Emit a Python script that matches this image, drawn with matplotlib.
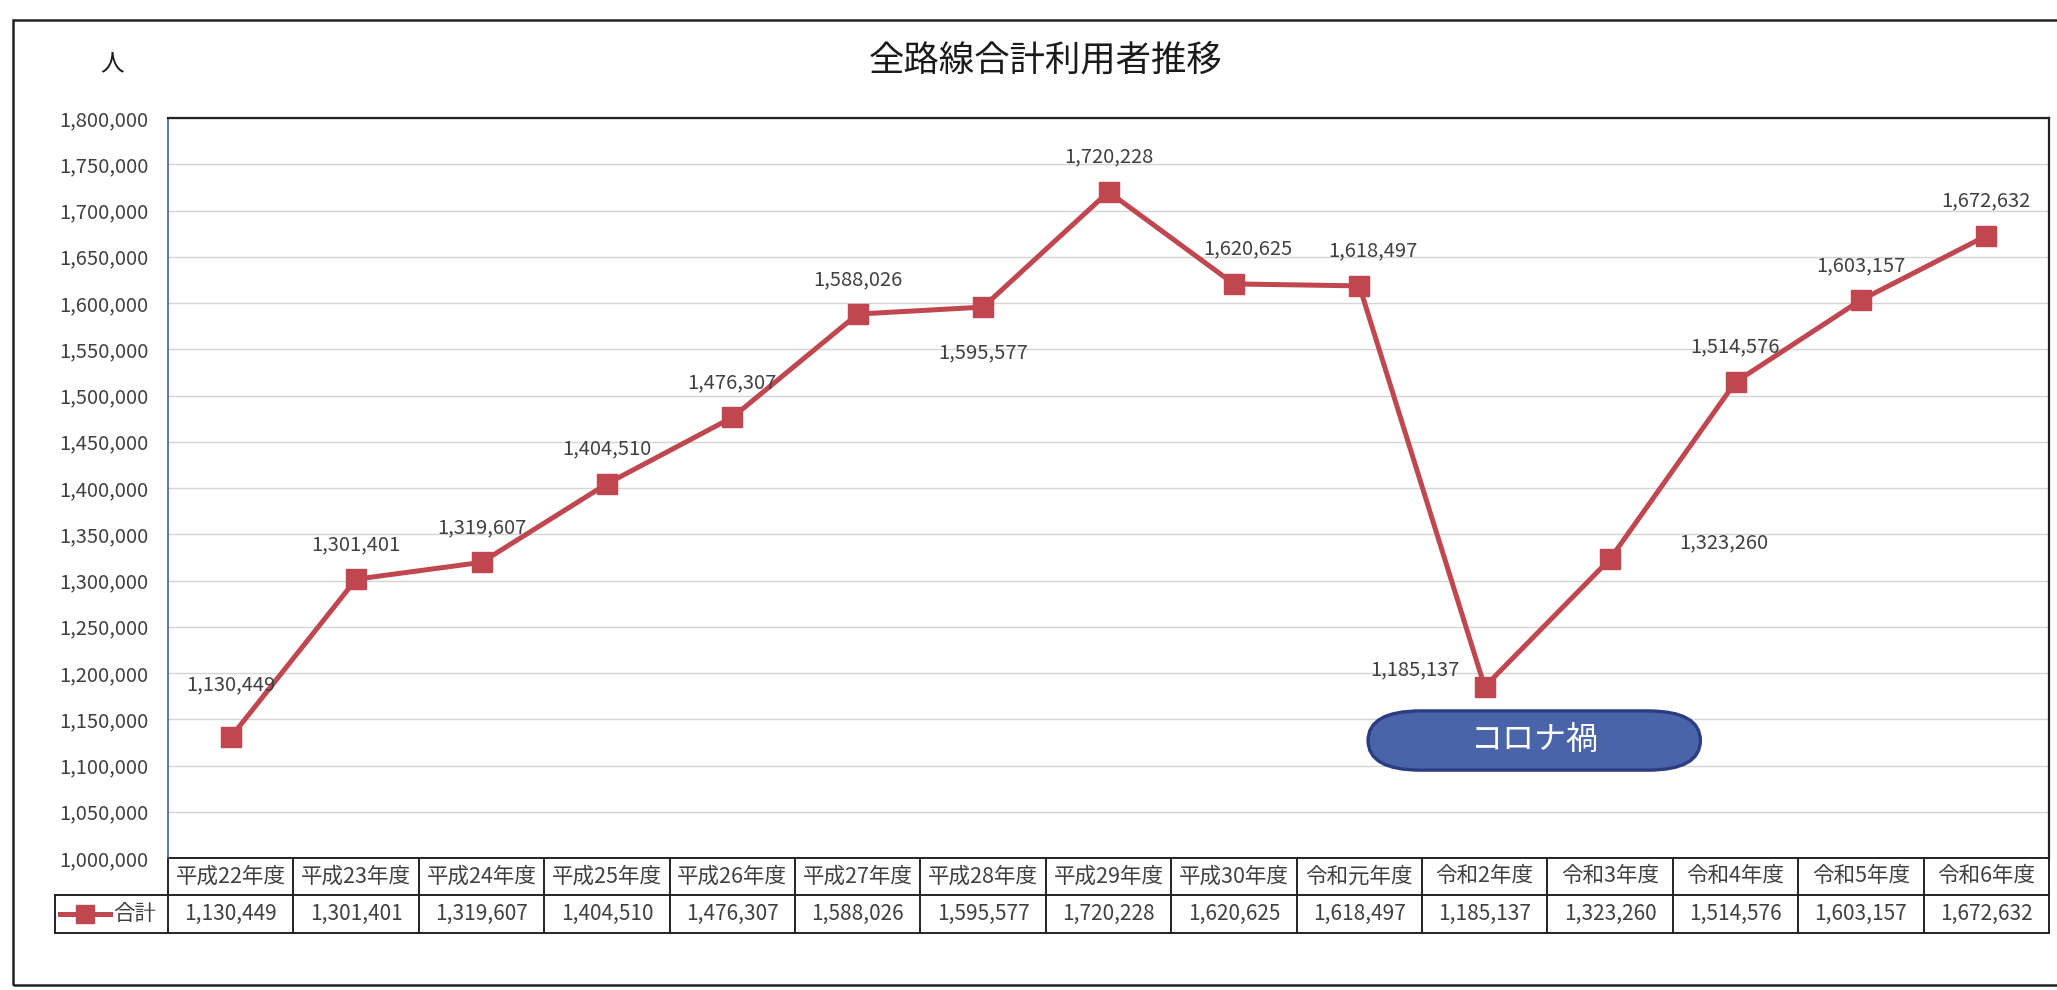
import numpy as np
import matplotlib.pyplot as plt
from matplotlib.patches import Rectangle, FancyBboxPatch
from matplotlib.transforms import blended_transform_factory

plt.rcParams['font.family'] = ['Noto Sans CJK JP', 'DejaVu Sans']

years = ['平成22年度', '平成23年度', '平成24年度', '平成25年度', '平成26年度',
         '平成27年度', '平成28年度', '平成29年度', '平成30年度', '令和元年度',
         '令和2年度', '令和3年度', '令和4年度', '令和5年度', '令和6年度']
users = [1130449, 1301401, 1319607, 1404510, 1476307,
         1588026, 1595577, 1720228, 1620625, 1618497,
         1185137, 1323260, 1514576, 1603157, 1672632]
series_name = '合計'
y_ticks = list(range(1000000, 1800001, 50000))

# label offsets in points (Excel placed some labels off the default "above")
label_off = [(0, 38), (0, 25), (0, 25), (0, 25), (0, 25),
             (0, 25), (0, -33), (0, 25), (10, 25), (10, 25),
             (-50, 12), (82, 12), (0, 25), (0, 25), (0, 25)]

red = '#C0474F'
txt = '#404040'

fig = plt.figure(figsize=(20.57, 9.9), dpi=100)

# outer chart frame
fig.patches.append(Rectangle((13 / 2057, 1 - 985 / 990), 2.0, 965 / 990,
                             transform=fig.transFigure, fill=False,
                             edgecolor='#222222', lw=1.8))

ax = fig.add_axes([168 / 2057, 1 - 858 / 990, 1881 / 2057, 740 / 990])
x = np.arange(len(years))
ax.set_xlim(-0.5, len(years) - 0.5)
ax.set_ylim(1000000, 1800000)

ax.set_yticks(y_ticks)
ax.set_yticklabels([f'{v:,}' for v in y_ticks], fontsize=14.5, color=txt)
ax.tick_params(axis='y', length=0, pad=14)
ax.set_xticks([])
ax.yaxis.grid(True, color='#D4D4D4', lw=1.0)
ax.set_axisbelow(True)
for s in ['top', 'right']:
    ax.spines[s].set_color('#222222')
    ax.spines[s].set_linewidth(1.6)
ax.spines['left'].set_color('#4060A8')
ax.spines['left'].set_linewidth(1.2)
ax.spines['bottom'].set_visible(False)

ax.plot(x, users, color=red, lw=3.6, marker='s', markersize=15,
        markerfacecolor=red, markeredgecolor=red, zorder=3)

for i, v in enumerate(users):
    ax.annotate(f'{v:,}', (x[i], v), xytext=label_off[i], textcoords='offset points',
                ha='center', va='center', fontsize=14.5, color=txt)

# コロナ禍 capsule
box = FancyBboxPatch((9.07, 1095000), 2.65, 64000,
                     boxstyle='round,pad=0,rounding_size=0.42',
                     mutation_aspect=32000 / 0.42,
                     facecolor='#4A64AA', edgecolor='#2C3C80', lw=2.4, zorder=4)
ax.add_patch(box)
ax.text(10.4, 1128000, 'コロナ禍', ha='center', va='center', fontsize=23,
        color='white', zorder=5)

# data table under the axis
tr = blended_transform_factory(ax.transData, ax.transAxes)
h1, h2 = 0.050, 0.102
lk = dict(color='#222222', lw=1.4, transform=tr, clip_on=False)
ax.plot([-0.5, len(years) - 0.5], [0, 0], **lk)
ax.plot([-1.4, len(years) - 0.5], [-h1, -h1], **lk)
ax.plot([-1.4, len(years) - 0.5], [-h2, -h2], **lk)
for k in range(len(years) + 1):
    ax.plot([k - 0.5, k - 0.5], [0, -h2], **lk)
ax.plot([-1.4, -1.4], [-h1, -h2], **lk)
for i, (yr, v) in enumerate(zip(years, users)):
    ax.text(x[i], -h1 / 2, yr, ha='center', va='center', fontsize=15.5,
            color=txt, transform=tr)
    ax.text(x[i], -(h1 + h2) / 2, f'{v:,}', ha='center', va='center',
            fontsize=15, color=txt, transform=tr)
ax.plot([-1.36, -0.96], [-(h1 + h2) / 2] * 2, color=red, lw=3.6,
        transform=tr, clip_on=False)
ax.plot([-1.16], [-(h1 + h2) / 2], color=red, marker='s', markersize=13,
        transform=tr, clip_on=False)
ax.text(-0.94, -(h1 + h2) / 2, series_name, ha='left', va='center',
        fontsize=15.5, color=txt, transform=tr)

fig.text(1046 / 2057, 1 - 60 / 990, '全路線合計利用者推移', ha='center',
         va='center', fontsize=25.5, color='#1a1a1a')
fig.text(112 / 2057, 1 - 64 / 990, '人', ha='center', va='center',
         fontsize=17, color='#1a1a1a')

fig.savefig('out.png', dpi=100)
